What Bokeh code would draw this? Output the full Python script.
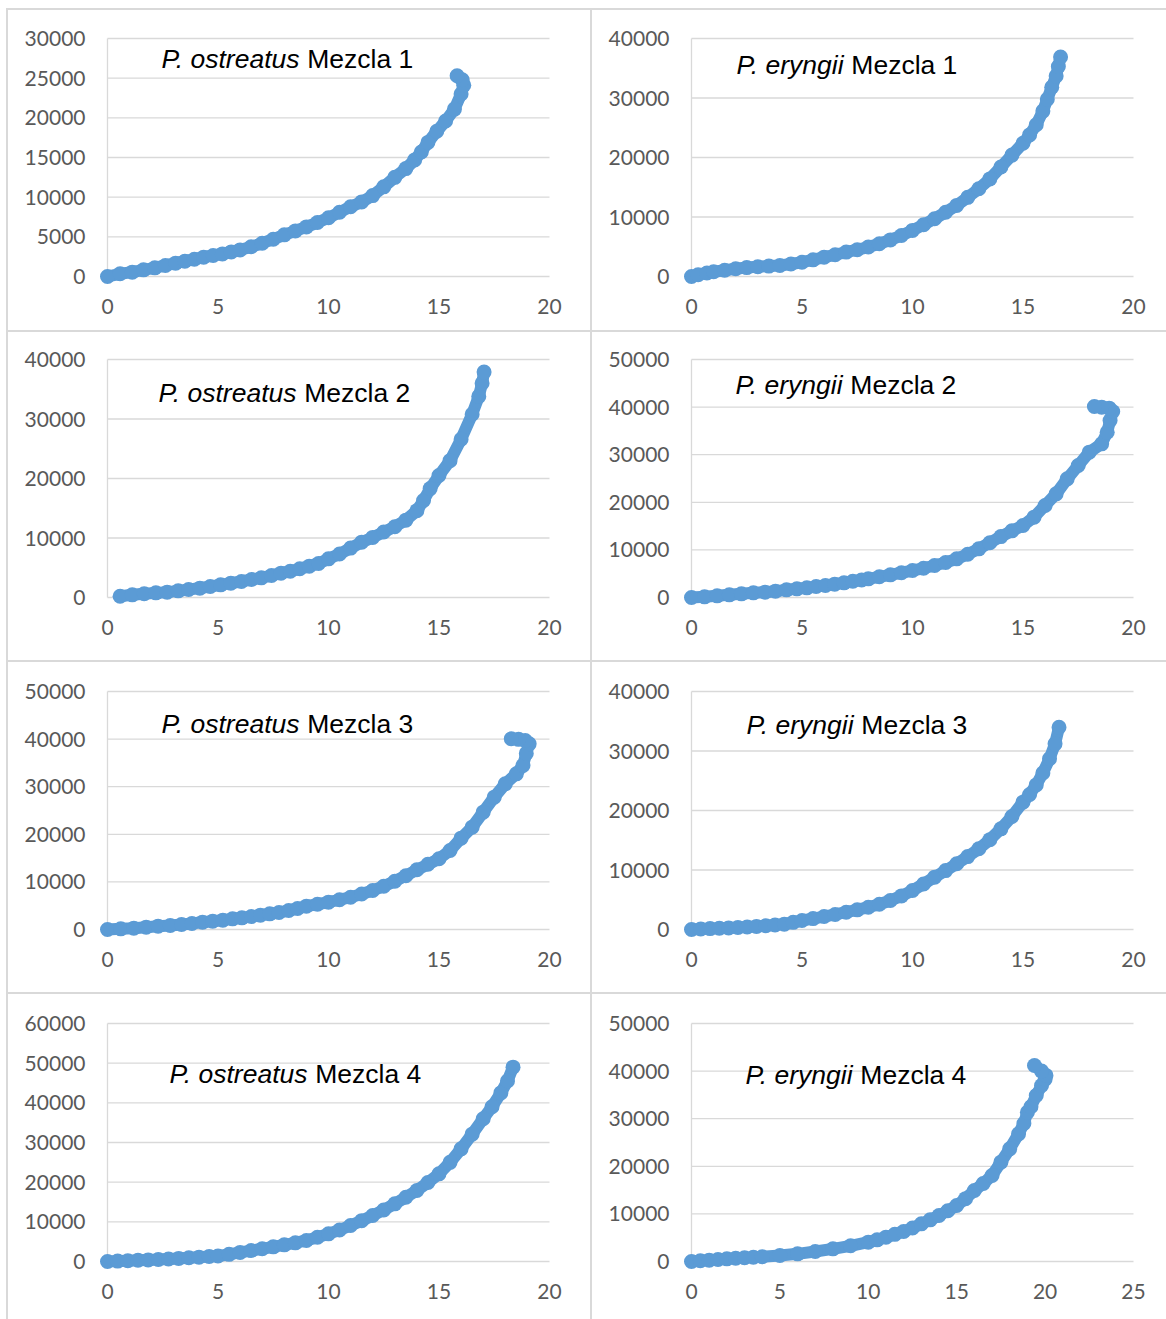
from bokeh.plotting import figure
from bokeh.layouts import row, column
from bokeh.models import Spacer, FixedTicker, Range1d
from bokeh.core.properties import value
from bokeh.embed import file_html
from bokeh.resources import INLINE

BLUE = "#5b9bd5"
GRID = "#d9d9d9"
LABEL = "#595959"

# ---------------- data ----------------
po1_x = [0, 0.57, 1.12, 1.63, 2.14, 2.62, 3.08, 3.5, 3.93, 4.35, 4.78, 5.2, 5.6, 6.0, 6.5, 7.0, 7.5, 8.0,
         8.5, 9.0, 9.5, 10.0, 10.5, 11.0, 11.5, 12.0, 12.5, 13.0, 13.5, 13.9, 14.2, 14.5, 14.9, 15.3, 15.7,
         16.0, 16.12, 16.05, 15.82]
po1_y = [0, 340, 550, 840, 1090, 1390, 1680, 1930, 2180, 2440, 2650, 2850, 3100, 3350, 3750, 4200, 4700,
         5250, 5750, 6250, 6800, 7400, 8100, 8800, 9400, 10200, 11300, 12500, 13600, 14700, 15700, 16900,
         18300, 19600, 21100, 23000, 24100, 24800, 25300]

pe1_x = [0, 0.3, 0.7, 1.0, 1.5, 2.0, 2.5, 3.0, 3.5, 4.0, 4.5, 5.0, 5.5, 6.0, 6.5, 7.0, 7.5, 8.0, 8.5, 9.0,
         9.5, 10.0, 10.5, 11.0, 11.5, 12.0, 12.5, 13.0, 13.5, 14.0, 14.5, 15.0, 15.3, 15.6, 15.9, 16.1, 16.3,
         16.5, 16.6, 16.7]
pe1_y = [0, 300, 600, 800, 1050, 1300, 1500, 1650, 1750, 1850, 2100, 2400, 2800, 3250, 3650, 4100, 4500,
         4950, 5500, 6150, 6900, 7750, 8700, 9700, 10800, 11950, 13300, 14750, 16400, 18400, 20400, 22400,
         23800, 25500, 27800, 29800, 31800, 33700, 35300, 36900]

po2_x = [0.57, 1.12, 1.66, 2.19, 2.70, 3.20, 3.67, 4.18, 4.65, 5.12, 5.58, 6.06, 6.52, 6.96, 7.42, 7.85,
         8.27, 8.70, 9.13, 9.55, 10.0, 10.5, 11.0, 11.5, 12.0, 12.5, 13.0, 13.5, 14.0, 14.3, 14.6, 15.0,
         15.5, 16.0, 16.5, 16.8, 16.95, 17.04]
po2_y = [220, 450, 620, 780, 900, 1120, 1350, 1570, 1850, 2130, 2410, 2690, 3030, 3300, 3700, 4090, 4420,
         4820, 5270, 5710, 6500, 7300, 8300, 9300, 10100, 11000, 11900, 13000, 14600, 16300, 18300, 20500,
         23000, 26600, 30800, 33800, 36000, 37900]

pe2_x = [0, 0.59, 1.16, 1.71, 2.26, 2.8, 3.33, 3.8, 4.3, 4.77, 5.22, 5.64, 6.06, 6.48, 6.9, 7.3, 7.7, 8.0,
         8.5, 9.0, 9.5, 10.0, 10.5, 11.0, 11.5, 12.0, 12.5, 13.0, 13.5, 14.0, 14.5, 15.0, 15.5, 16.0, 16.5,
         17.0, 17.5, 18.0, 18.56, 18.81, 18.94, 19.06, 18.9, 18.56, 18.23]
pe2_y = [0, 140, 350, 560, 770, 980, 1120, 1330, 1610, 1820, 2030, 2310, 2520, 2800, 3080, 3400, 3700,
         3920, 4350, 4760, 5200, 5670, 6150, 6720, 7350, 8120, 9100, 10220, 11500, 12800, 14000, 15130,
         16880, 19330, 21780, 24930, 27730, 30530, 32280, 34730, 37180, 39070, 39780, 39990, 40130]

po3_x = [0, 0.6, 1.19, 1.75, 2.29, 2.84, 3.35, 3.82, 4.3, 4.76, 5.22, 5.66, 6.08, 6.51, 6.92, 7.34, 7.76,
         8.2, 8.6, 9.0, 9.5, 10.0, 10.5, 11.0, 11.5, 12.0, 12.5, 13.0, 13.5, 14.0, 14.5, 15.0, 15.5, 16.0,
         16.5, 17.0, 17.5, 18.0, 18.5, 18.8, 18.95, 19.08, 18.9, 18.6, 18.27]
po3_y = [0, 140, 280, 490, 700, 840, 1050, 1260, 1540, 1750, 1960, 2240, 2450, 2730, 3010, 3290, 3570,
         4000, 4400, 4900, 5300, 5740, 6250, 6790, 7450, 8190, 9100, 10150, 11300, 12540, 13700, 14850,
         16600, 19190, 21500, 24650, 27800, 30600, 32700, 34450, 37000, 39000, 39700, 39950, 40060]

pe3_x = [0, 0.42, 0.84, 1.26, 1.68, 2.1, 2.52, 2.94, 3.36, 3.78, 4.2, 4.6, 5.0, 5.5, 6.0, 6.5, 7.0, 7.5,
         8.0, 8.5, 9.0, 9.5, 10.0, 10.5, 11.0, 11.5, 12.0, 12.5, 13.0, 13.5, 14.0, 14.5, 15.0, 15.3, 15.6,
         15.9, 16.2, 16.45, 16.63]
pe3_y = [0, 80, 150, 210, 270, 340, 420, 520, 620, 760, 900, 1200, 1510, 1830, 2180, 2530, 2910, 3300,
         3750, 4250, 4870, 5650, 6550, 7650, 8800, 9900, 11040, 12250, 13560, 15100, 16920, 19000, 21400,
         22700, 24300, 26300, 28700, 31200, 34000]

po4_x = [0, 0.46, 0.92, 1.38, 1.84, 2.3, 2.76, 3.22, 3.68, 4.14, 4.6, 5.0, 5.5, 6.0, 6.5, 7.0, 7.5, 8.0,
         8.5, 9.0, 9.5, 10.0, 10.5, 11.0, 11.5, 12.0, 12.5, 13.0, 13.5, 14.0, 14.5, 15.0, 15.5, 16.0, 16.5,
         17.0, 17.4, 17.8, 18.1, 18.35]
po4_y = [0, 100, 200, 300, 400, 520, 640, 780, 930, 1090, 1250, 1400, 1800, 2300, 2750, 3200, 3700, 4200,
         4700, 5300, 6100, 6970, 7950, 9070, 10300, 11600, 13000, 14540, 16200, 17900, 19900, 22100, 25000,
         28400, 32100, 35970, 39000, 42500, 45500, 49000]

pe4_x = [0, 0.5, 1.0, 1.5, 2.0, 2.5, 3.0, 3.5, 4.0, 5.0, 6.0, 7.0, 8.0, 9.0, 10.0, 10.5, 11.0, 11.5, 12.0,
         12.5, 13.0, 13.5, 14.0, 14.5, 15.0, 15.5, 16.0, 16.5, 17.0, 17.5, 18.0, 18.5, 18.8, 19.0, 19.2,
         19.5, 19.8, 20.0, 20.05, 19.8, 19.4]
pe4_y = [0, 150, 280, 420, 560, 680, 800, 900, 1000, 1260, 1610, 2100, 2660, 3300, 4060, 4550, 5110, 5700,
         6300, 7050, 7910, 8750, 9660, 10650, 11760, 13200, 14920, 16400, 18070, 20870, 23670, 26820, 29000,
         31370, 32500, 34870, 36970, 38300, 39100, 40000, 41180]

species = ["P. ostreatus", "P. eryngii", "P. ostreatus", "P. eryngii",
           "P. ostreatus", "P. eryngii", "P. ostreatus", "P. eryngii"]
mezcla = ["Mezcla 1", "Mezcla 1", "Mezcla 2", "Mezcla 2",
          "Mezcla 3", "Mezcla 3", "Mezcla 4", "Mezcla 4"]
x_max = [20, 20, 20, 20, 20, 20, 20, 25]
x_step = [5, 5, 5, 5, 5, 5, 5, 5]
y_max = [30000, 40000, 40000, 50000, 50000, 40000, 60000, 50000]
y_step = [5000, 10000, 10000, 10000, 10000, 10000, 10000, 10000]
series = [(po1_x, po1_y), (pe1_x, pe1_y), (po2_x, po2_y), (pe2_x, pe2_y),
          (po3_x, po3_y), (pe3_x, pe3_y), (po4_x, po4_y), (pe4_x, pe4_y)]

# ---------------- layout ----------------
ROW_H = [320, 328, 330, 325]
TOP_OFF = [28, 27, 29, 29]          # frame top (gridline ymax) offset inside row
COL_W = [582, 574]
# title anchor (pixels from the data origin: right, up)
TITLE_POS = [(54, 218), (45, 212), (51, 205), (44, 213),
             (54, 206), (55, 205), (62, 188), (54, 187)]

PLOT_W, PLOT_H, PAD = 442, 238, 10
TITLE_FS = 26.5
ITALIC_W = {"P. ostreatus": 5.336, "P. eryngii": 4.168}
SPACE_W = 0.278


def panel(i, w, h, top_off):
    xs, ys = series[i]
    xm, ym = x_max[i], y_max[i]
    xpad = PAD * xm / PLOT_W
    ypad = PAD * ym / PLOT_H
    fw, fh = PLOT_W + 2 * PAD, PLOT_H + 2 * PAD
    left = 99 - PAD
    top = top_off - PAD
    p = figure(width=w, height=h, output_backend="svg", toolbar_location=None,
               x_range=Range1d(-xpad, xm + xpad), y_range=Range1d(-ypad, ym + ypad),
               min_border_left=left, min_border_right=w - left - fw,
               min_border_top=top, min_border_bottom=h - top - fh)
    p.outline_line_color = None
    p.background_fill_color = "white"
    p.border_fill_color = "white"
    p.grid.visible = False

    xt = list(range(0, xm + 1, x_step[i]))
    yt = list(range(0, ym + 1, y_step[i]))
    p.xaxis.ticker = FixedTicker(ticks=xt)
    p.yaxis.ticker = FixedTicker(ticks=yt)
    for ax in (p.xaxis, p.yaxis):
        ax.axis_line_color = None
        ax.major_tick_line_color = None
        ax.minor_tick_line_color = None
        ax.major_tick_out = 0
        ax.major_tick_in = 0
        ax.major_label_text_font = "Lato"
        ax.major_label_text_font_size = "21px"
        ax.major_label_text_color = LABEL
    p.yaxis.major_label_standoff = 12
    p.xaxis.major_label_standoff = 12

    # gridlines and vertical axis line
    p.segment(x0=[0] * len(yt), y0=yt, x1=[xm] * len(yt), y1=yt,
              line_color=GRID, line_width=1.3)
    p.segment(x0=[0], y0=[0], x1=[0], y1=[ym], line_color=GRID, line_width=1.3)

    # data
    p.line(xs, ys, line_width=12, line_color=BLUE, line_join="round", line_cap="round")
    p.scatter(xs, ys, size=15, fill_color=BLUE, line_color=None)

    # title (italic species + regular text)
    tx_px, ty_px = TITLE_POS[i]
    tx = tx_px * xm / PLOT_W
    ty = ty_px * ym / PLOT_H
    sp = species[i]
    p.text(x=[tx], y=[ty], text=[sp], text_font=value("Liberation Sans"),
           text_font_style="italic", text_font_size=f"{TITLE_FS}px",
           text_baseline="middle", text_align="left", text_color="black")
    p.text(x=[tx], y=[ty], text=[mezcla[i]], text_font=value("Liberation Sans"),
           text_font_size=f"{TITLE_FS}px", text_baseline="middle", text_align="left",
           text_color="black", x_offset=(ITALIC_W[sp] + SPACE_W) * TITLE_FS - 3)
    return p


def gline(w, h):
    return Spacer(width=w, height=h, styles={"background-color": GRID})


items = [Spacer(width=1166, height=8)]
for r in range(4):
    h = ROW_H[r]
    items.append(row(Spacer(width=6, height=2), gline(1160, 2)))
    figs = [panel(2 * r + c, COL_W[c], h, TOP_OFF[r]) for c in range(2)]
    items.append(row(Spacer(width=6, height=h), gline(2, h), figs[0], gline(2, h), figs[1]))

root = column(*items)
open("out.html", "w").write(file_html(root, INLINE))
